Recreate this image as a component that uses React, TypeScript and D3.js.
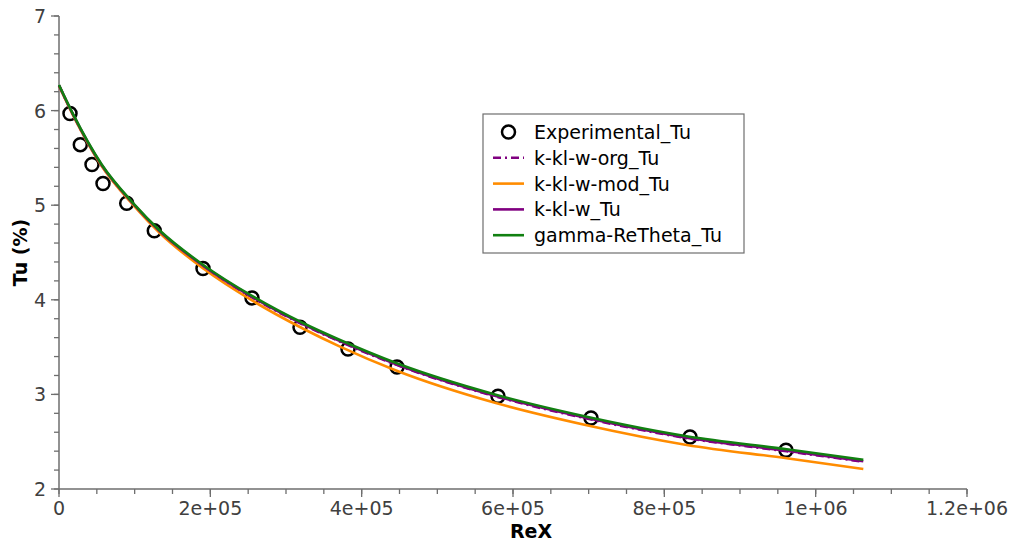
import React from "react";
import * as d3 from "d3";

const W = 1011;
const H = 543;

// Experimental data
const expX = [14537, 28150, 43612, 58150, 89471, 125947, 190308, 255066, 318502, 381938, 446696, 580176, 703084, 833921, 960793];
const expY = [5.97, 5.64, 5.43, 5.23, 5.02, 4.73, 4.33, 4.02, 3.71, 3.48, 3.29, 2.98, 2.75, 2.55, 2.41];

// Model curves sample positions
const curveX = [0, 18100, 56400, 98200, 133500, 190707, 256786, 322865, 371370, 446302, 578463, 697409, 829566, 961728, 1062959];
const gammaY = [6.27, 5.97, 5.43, 5.02, 4.73, 4.368, 4.033, 3.752, 3.575, 3.329, 2.994, 2.764, 2.558, 2.42, 2.31];
const modY = [6.26, 5.958, 5.414, 5.0, 4.703, 4.331, 3.985, 3.694, 3.505, 3.25, 2.906, 2.674, 2.466, 2.325, 2.212];
const kklwY = [6.267, 5.966, 5.424, 5.013, 4.722, 4.359, 4.023, 3.741, 3.563, 3.317, 2.981, 2.75, 2.543, 2.404, 2.293];
const orgY = [6.265, 5.963, 5.42, 5.009, 4.717, 4.354, 4.018, 3.736, 3.558, 3.312, 2.976, 2.745, 2.538, 2.399, 2.288];

const xTickValues = [0, 200000, 400000, 600000, 800000, 1000000, 1200000];
const xTickLabels = ["0", "2e+05", "4e+05", "6e+05", "8e+05", "1e+06", "1.2e+06"];
const yTickValues = [2, 3, 4, 5, 6, 7];
const yTickLabels = ["2", "3", "4", "5", "6", "7"];

const legendLabels = ["Experimental_Tu", "k-kl-w-org_Tu", "k-kl-w-mod_Tu", "k-kl-w_Tu", "gamma-ReTheta_Tu"];

const PURPLE = "#800080";
const ORANGE = "#ff8c00";
const GREEN = "#118011";
const AXIS = "#6e6e6e";
const LABEL = "#404040";
const FONT = "DejaVu Sans";

export default function App() {
  const x = d3.scaleLinear().domain([0, 1200000]).range([59, 967]);
  const y = d3.scaleLinear().domain([2, 7]).range([489, 16]);

  const line = (ys: number[]) =>
    d3
      .line<number>()
      .x((_, i) => x(curveX[i]))
      .y((d) => y(d))
      .curve(d3.curveMonotoneX)(ys) as string;

  const xMinor = d3.range(0, 1200001, 50000);
  const yMinor = d3.range(2, 7.0001, 0.2);

  const series = [
    { ys: orgY, color: PURPLE, dash: "8,4,2,4" },
    { ys: modY, color: ORANGE, dash: "" },
    { ys: kklwY, color: PURPLE, dash: "" },
    { ys: gammaY, color: GREEN, dash: "" },
  ];

  const legX = 483;
  const legY = 114;
  const rowH = 25.8;

  return (
    <svg width={W} height={H} style={{ position: "absolute", left: 0, top: 0, background: "#fff" }} fontFamily={FONT}>
      <rect x={0} y={0} width={W} height={H} fill="#fff" />
      {/* axes */}
      <line x1={x(0)} x2={x(1200000)} y1={y(2)} y2={y(2)} stroke={AXIS} strokeWidth={1.5} />
      <line x1={x(0)} x2={x(0)} y1={y(2)} y2={y(7)} stroke={AXIS} strokeWidth={1.5} />
      {xMinor.map((v) => (
        <line key={"xm" + v} x1={x(v)} x2={x(v)} y1={y(2)} y2={y(2) + 5} stroke={AXIS} strokeWidth={1.3} />
      ))}
      {xTickValues.map((v, i) => (
        <g key={"xt" + v}>
          <line x1={x(v)} x2={x(v)} y1={y(2)} y2={y(2) + 8} stroke={AXIS} strokeWidth={1.3} />
          <text x={x(v)} y={y(2) + 26} textAnchor="middle" fontSize={19} fill={LABEL}>
            {xTickLabels[i]}
          </text>
        </g>
      ))}
      {yMinor.map((v) => (
        <line key={"ym" + v} x1={x(0) - 5} x2={x(0)} y1={y(v)} y2={y(v)} stroke={AXIS} strokeWidth={1.3} />
      ))}
      {yTickValues.map((v, i) => (
        <g key={"yt" + v}>
          <line x1={x(0) - 8} x2={x(0)} y1={y(v)} y2={y(v)} stroke={AXIS} strokeWidth={1.3} />
          <text x={x(0) - 13} y={y(v) + 7} textAnchor="end" fontSize={19} fill={LABEL}>
            {yTickLabels[i]}
          </text>
        </g>
      ))}
      <text x={531} y={538} textAnchor="middle" fontSize={19} fontWeight="bold" fill="#000">
        ReX
      </text>
      <text transform={`translate(27,${(y(2) + y(7)) / 2}) rotate(-90)`} textAnchor="middle" fontSize={19} fontWeight="bold" fill="#000">
        Tu (%)
      </text>

      {/* experimental points */}
      {expX.map((v, i) => (
        <circle key={"e" + i} cx={x(v)} cy={y(expY[i])} r={6.5} fill="none" stroke="#000" strokeWidth={2.5} />
      ))}

      {/* model curves */}
      {series.map((s, i) => (
        <path key={"s" + i} d={line(s.ys)} fill="none" stroke={s.color} strokeWidth={2.6} strokeDasharray={s.dash || undefined} />
      ))}

      {/* legend */}
      <rect x={legX} y={legY} width={261} height={139} fill="#fff" stroke="#6e6e6e" strokeWidth={1.2} />
      {legendLabels.map((lab, i) => {
        const cy = legY + 18 + i * rowH;
        let marker;
        if (i === 0) {
          marker = <circle cx={508.5} cy={cy} r={6.5} fill="none" stroke="#000" strokeWidth={2.5} />;
        } else {
          const s = series[i - 1];
          marker = <line x1={493} x2={524} y1={cy} y2={cy} stroke={s.color} strokeWidth={2.6} strokeDasharray={s.dash || undefined} />;
        }
        return (
          <g key={"l" + i}>
            {marker}
            <text x={534} y={cy + 7} fontSize={19} fill="#000">
              {lab}
            </text>
          </g>
        );
      })}
    </svg>
  );
}
